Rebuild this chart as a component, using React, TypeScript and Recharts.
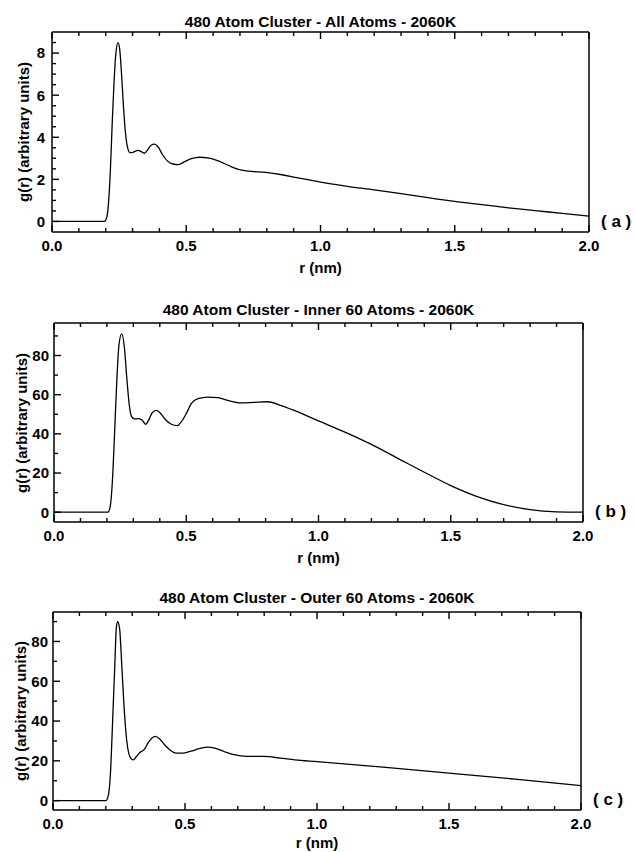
import React from 'react';
import { LineChart, Line, XAxis, YAxis, Label } from 'recharts';

const FONT = "'Liberation Sans', Arial, Helvetica, sans-serif";

// ---- Panel (a): all atoms ----
const rA = [0, 0.1, 0.195, 0.203, 0.21, 0.217, 0.224, 0.231, 0.238, 0.2455, 0.252, 0.259, 0.266, 0.273, 0.28, 0.29, 0.3, 0.32, 0.332, 0.344, 0.356, 0.369, 0.381, 0.394, 0.412, 0.431, 0.45, 0.471, 0.494, 0.519, 0.55, 0.581, 0.619, 0.656, 0.694, 0.731, 0.794, 0.856, 0.9125, 1.0, 1.1, 1.2, 1.3, 1.4, 1.5, 1.6, 1.7, 1.8, 1.9, 2.0];
const gA = [0, 0, 0, 0.15, 0.8, 2.3, 4.6, 6.6, 8.0, 8.5, 8.2, 7.0, 5.5, 4.3, 3.6, 3.27, 3.28, 3.38, 3.32, 3.24, 3.4, 3.62, 3.67, 3.56, 3.17, 2.86, 2.73, 2.7, 2.84, 2.98, 3.05, 3.02, 2.88, 2.67, 2.47, 2.39, 2.33, 2.22, 2.08, 1.87, 1.67, 1.5, 1.32, 1.13, 0.95, 0.8, 0.65, 0.52, 0.38, 0.25];

// ---- Panel (b): inner 60 atoms ----
const rB = [0, 0.1, 0.204, 0.2125, 0.221, 0.229, 0.2375, 0.246, 0.256, 0.266, 0.275, 0.284, 0.294, 0.306, 0.319, 0.334, 0.346, 0.359, 0.371, 0.3875, 0.404, 0.421, 0.444, 0.466, 0.481, 0.5, 0.519, 0.544, 0.581, 0.619, 0.656, 0.706, 0.756, 0.806, 0.856, 0.9125, 1.0, 1.1, 1.2, 1.3, 1.4, 1.5, 1.6, 1.7, 1.8, 1.9, 2.0];
const gB = [0, 0, 0, 2.9, 16.4, 40.2, 67.3, 85.9, 91.0, 84.2, 69.0, 55.4, 48.6, 47.6, 47.8, 46.9, 44.9, 47.3, 50.7, 52.0, 50.3, 47.3, 44.9, 44.2, 46.1, 50.3, 55.4, 58.0, 58.8, 58.5, 57.1, 55.8, 56.1, 56.4, 54.6, 51.7, 46.6, 40.9, 34.6, 27.5, 20.4, 13.6, 8.0, 3.9, 1.3, 0.2, 0];

// ---- Panel (c): outer 60 atoms ----
const rC = [0, 0.1, 0.2, 0.21, 0.219, 0.226, 0.234, 0.24, 0.245, 0.2525, 0.26, 0.269, 0.279, 0.291, 0.304, 0.316, 0.329, 0.345, 0.36, 0.375, 0.3875, 0.404, 0.4225, 0.445, 0.466, 0.491, 0.5225, 0.554, 0.585, 0.616, 0.6475, 0.685, 0.735, 0.7975, 0.86, 0.916, 1.0, 1.25, 1.5, 1.75, 2.0];
const gC = [0, 0, 0, 2.9, 17.2, 40.7, 67.7, 87.0, 89.9, 86.2, 69.4, 47.5, 30.6, 22.2, 20.5, 22.2, 24.2, 25.6, 29.0, 31.5, 32.3, 31.0, 28.1, 25.3, 23.9, 23.9, 24.9, 26.1, 26.9, 26.3, 24.7, 23.1, 22.2, 22.2, 21.4, 20.5, 19.6, 16.8, 13.8, 10.8, 7.6];

// ---- Ticks ----
const xTicks = [0, 0.1, 0.2, 0.3, 0.4, 0.5, 0.6, 0.7, 0.8, 0.9, 1.0, 1.1, 1.2, 1.3, 1.4, 1.5, 1.6, 1.7, 1.8, 1.9, 2.0];
const xTickLabels = ['0.0', '0.5', '1.0', '1.5', '2.0'];
const yTicksA = [0, 0.5, 1, 1.5, 2, 2.5, 3, 3.5, 4, 4.5, 5, 5.5, 6, 6.5, 7, 7.5, 8, 8.5];
const yLabelsA = [0, 2, 4, 6, 8];
const yTicksBC = [0, 10, 20, 30, 40, 50, 60, 70, 80, 90];
const yLabelsBC = [0, 20, 40, 60, 80];

const titles = [
  '480 Atom Cluster - All Atoms - 2060K',
  '480 Atom Cluster - Inner 60 Atoms - 2060K',
  '480 Atom Cluster - Outer 60 Atoms - 2060K',
];
const tags = ['( a )', '( b )', '( c )'];
const yTitle = 'g(r) (arbitrary units)';
const xTitle = 'r (nm)';

type PanelSpec = {
  r: number[];
  g: number[];
  title: string;
  tag: string;
  boxTop: number;
  boxHeight: number;
  plotLeft: number;
  plotRight: number;
  plotTop: number;
  plotBottom: number;
  yDomain: [number, number];
  yTicks: number[];
  yLabels: number[];
  yLabelGap: number;
  yTitleX: number;
  xTitleOffset: number;
  titleBaseline: number;
};

const MAJOR = 7;
const MINOR = 4;
const TICK_FONT = 15;
const INK = '#000';
const TICK_W = 1.4;

function PanelChart({ p }: { p: PanelSpec }) {
  const data = p.r.map((r, i) => ({ r, g: p.g[i] }));
  const xAxisH = 20;
  const margin = {
    top: p.plotTop - 1,
    right: 635 - p.plotRight - 1,
    left: 0,
    bottom: p.boxHeight - p.plotBottom - xAxisH,
  };
  const isXMajor = (v: number) => xTickLabels.includes(Number(v).toFixed(1));
  const isYMajor = (v: number) => p.yLabels.includes(v);

  const xTickBottom = (props: any) => {
    const { x, y, payload } = props;
    const v = payload.value;
    const major = isXMajor(v);
    return (
      <g>
        <line x1={x} y1={y} x2={x} y2={y - (major ? MAJOR : MINOR)} stroke={INK} strokeWidth={TICK_W} />
        {major ? (
          <text x={x} y={y + 13.5} dy="0.35em" textAnchor="middle" fontFamily={FONT} fontWeight="bold" fontSize={TICK_FONT} fill={INK}>
            {Number(v).toFixed(1)}
          </text>
        ) : null}
      </g>
    );
  };
  const xTickTop = (props: any) => {
    const { x, y, payload } = props;
    const major = isXMajor(payload.value);
    return <line x1={x} y1={y} x2={x} y2={y + (major ? MAJOR : MINOR)} stroke={INK} strokeWidth={TICK_W} />;
  };
  const yTickLeft = (props: any) => {
    const { x, y, payload } = props;
    const v = payload.value;
    const major = isYMajor(v);
    return (
      <g>
        <line x1={x} y1={y} x2={x + (major ? MAJOR : MINOR)} y2={y} stroke={INK} strokeWidth={TICK_W} />
        {major ? (
          <text x={x - p.yLabelGap} y={y} dy="0.36em" textAnchor="end" fontFamily={FONT} fontWeight="bold" fontSize={TICK_FONT} fill={INK}>
            {String(v)}
          </text>
        ) : null}
      </g>
    );
  };
  const yTickRight = (props: any) => {
    const { x, y, payload } = props;
    const major = isYMajor(payload.value);
    return <line x1={x} y1={y} x2={x - (major ? MAJOR : MINOR)} y2={y} stroke={INK} strokeWidth={TICK_W} />;
  };

  const textStyle = { fontFamily: FONT, fontWeight: 'bold' as const, fontSize: 15, fill: INK };
  const axisLine = { stroke: INK, strokeWidth: 1.5 };

  return (
    <LineChart width={635} height={p.boxHeight} data={data} margin={margin}>
      <XAxis
        xAxisId="b"
        dataKey="r"
        type="number"
        domain={[0, 2]}
        ticks={xTicks}
        interval={0}
        height={xAxisH}
        tickSize={0}
        tickMargin={0}
        tickLine={false}
        tick={xTickBottom}
        axisLine={axisLine}
      >
        <Label value={xTitle} position="bottom" offset={p.xTitleOffset} style={textStyle} />
      </XAxis>
      <XAxis
        xAxisId="t"
        orientation="top"
        dataKey="r"
        type="number"
        domain={[0, 2]}
        ticks={xTicks}
        interval={0}
        height={1}
        tickSize={0}
        tickMargin={0}
        tickLine={false}
        tick={xTickTop}
        axisLine={axisLine}
      />
      <YAxis
        yAxisId="l"
        type="number"
        domain={p.yDomain}
        ticks={p.yTicks}
        interval={0}
        width={p.plotLeft}
        tickSize={0}
        tickMargin={0}
        tickLine={false}
        tick={yTickLeft}
        axisLine={axisLine}
      />
      <YAxis
        yAxisId="rt"
        orientation="right"
        type="number"
        domain={p.yDomain}
        ticks={p.yTicks}
        interval={0}
        width={1}
        tickSize={0}
        tickMargin={0}
        tickLine={false}
        tick={yTickRight}
        axisLine={axisLine}
      />
      <Line
        xAxisId="b"
        yAxisId="l"
        dataKey="g"
        type="monotone"
        stroke={INK}
        strokeWidth={1.3}
        dot={false}
        isAnimationActive={false}
      />
    </LineChart>
  );
}

function PanelOverlays({ p }: { p: PanelSpec }) {
  const plotMid = p.boxTop + (p.plotTop + p.plotBottom) / 2;
  const yTitleW = 220;
  const yTitleH = 18;
  return (
    <>
      <div
        style={{
          position: 'absolute',
          left: p.yTitleX - yTitleW / 2,
          top: plotMid - yTitleH / 2,
          width: yTitleW,
          height: yTitleH,
          lineHeight: `${yTitleH}px`,
          fontSize: 15,
          fontFamily: FONT,
          fontWeight: 'bold',
          textAlign: 'center',
          color: INK,
          whiteSpace: 'nowrap',
          transform: 'rotate(-90deg)',
          transformOrigin: 'center center',
          pointerEvents: 'none',
        }}
      >
        {yTitle}
      </div>
      <div
        style={{
          position: 'absolute',
          left: p.plotLeft,
          width: p.plotRight - p.plotLeft,
          top: p.boxTop + p.titleBaseline - 13.4,
          lineHeight: '16px',
          fontSize: 15.5,
          fontFamily: FONT,
          fontWeight: 'bold',
          textAlign: 'center',
          color: INK,
          whiteSpace: 'nowrap',
          pointerEvents: 'none',
        }}
      >
        {p.title}
      </div>
      <div
        style={{
          position: 'absolute',
          left: p.plotRight + 12,
          top: p.boxTop + p.plotBottom - 9 - 10,
          lineHeight: '17px',
          fontSize: 17,
          fontFamily: FONT,
          fontWeight: 'bold',
          color: INK,
          whiteSpace: 'pre',
          pointerEvents: 'none',
        }}
      >
        {p.tag}
      </div>
    </>
  );
}

const panels: PanelSpec[] = [
  {
    r: rA,
    g: gA,
    title: titles[0],
    tag: tags[0],
    boxTop: 0,
    boxHeight: 290,
    plotLeft: 52,
    plotRight: 589,
    plotTop: 32,
    plotBottom: 232,
    yDomain: [-0.5, 9],
    yTicks: yTicksA,
    yLabels: yLabelsA,
    yLabelGap: 7,
    yTitleX: 24,
    xTitleOffset: 10,
    titleBaseline: 27,
  },
  {
    r: rB,
    g: gB,
    title: titles[1],
    tag: tags[1],
    boxTop: 290,
    boxHeight: 280,
    plotLeft: 54,
    plotRight: 583,
    plotTop: 33,
    plotBottom: 232,
    yDomain: [-5, 96.6],
    yTicks: yTicksBC,
    yLabels: yLabelsBC,
    yLabelGap: 5,
    yTitleX: 22,
    xTitleOffset: 10,
    titleBaseline: 25.5,
  },
  {
    r: rC,
    g: gC,
    title: titles[2],
    tag: tags[2],
    boxTop: 570,
    boxHeight: 282,
    plotLeft: 53,
    plotRight: 581,
    plotTop: 42,
    plotBottom: 240,
    yDomain: [-4.7, 94.8],
    yTicks: yTicksBC,
    yLabels: yLabelsBC,
    yLabelGap: 5,
    yTitleX: 21,
    xTitleOffset: 7,
    titleBaseline: 33.5,
  },
];

export default function App() {
  return (
    <div style={{ position: 'absolute', left: 0, top: 0, width: 635, height: 852, background: '#fff' }}>
      {panels.map((p, i) => (
        <PanelChart key={`c${i}`} p={p} />
      ))}
      {panels.map((p, i) => (
        <PanelOverlays key={`o${i}`} p={p} />
      ))}
    </div>
  );
}
